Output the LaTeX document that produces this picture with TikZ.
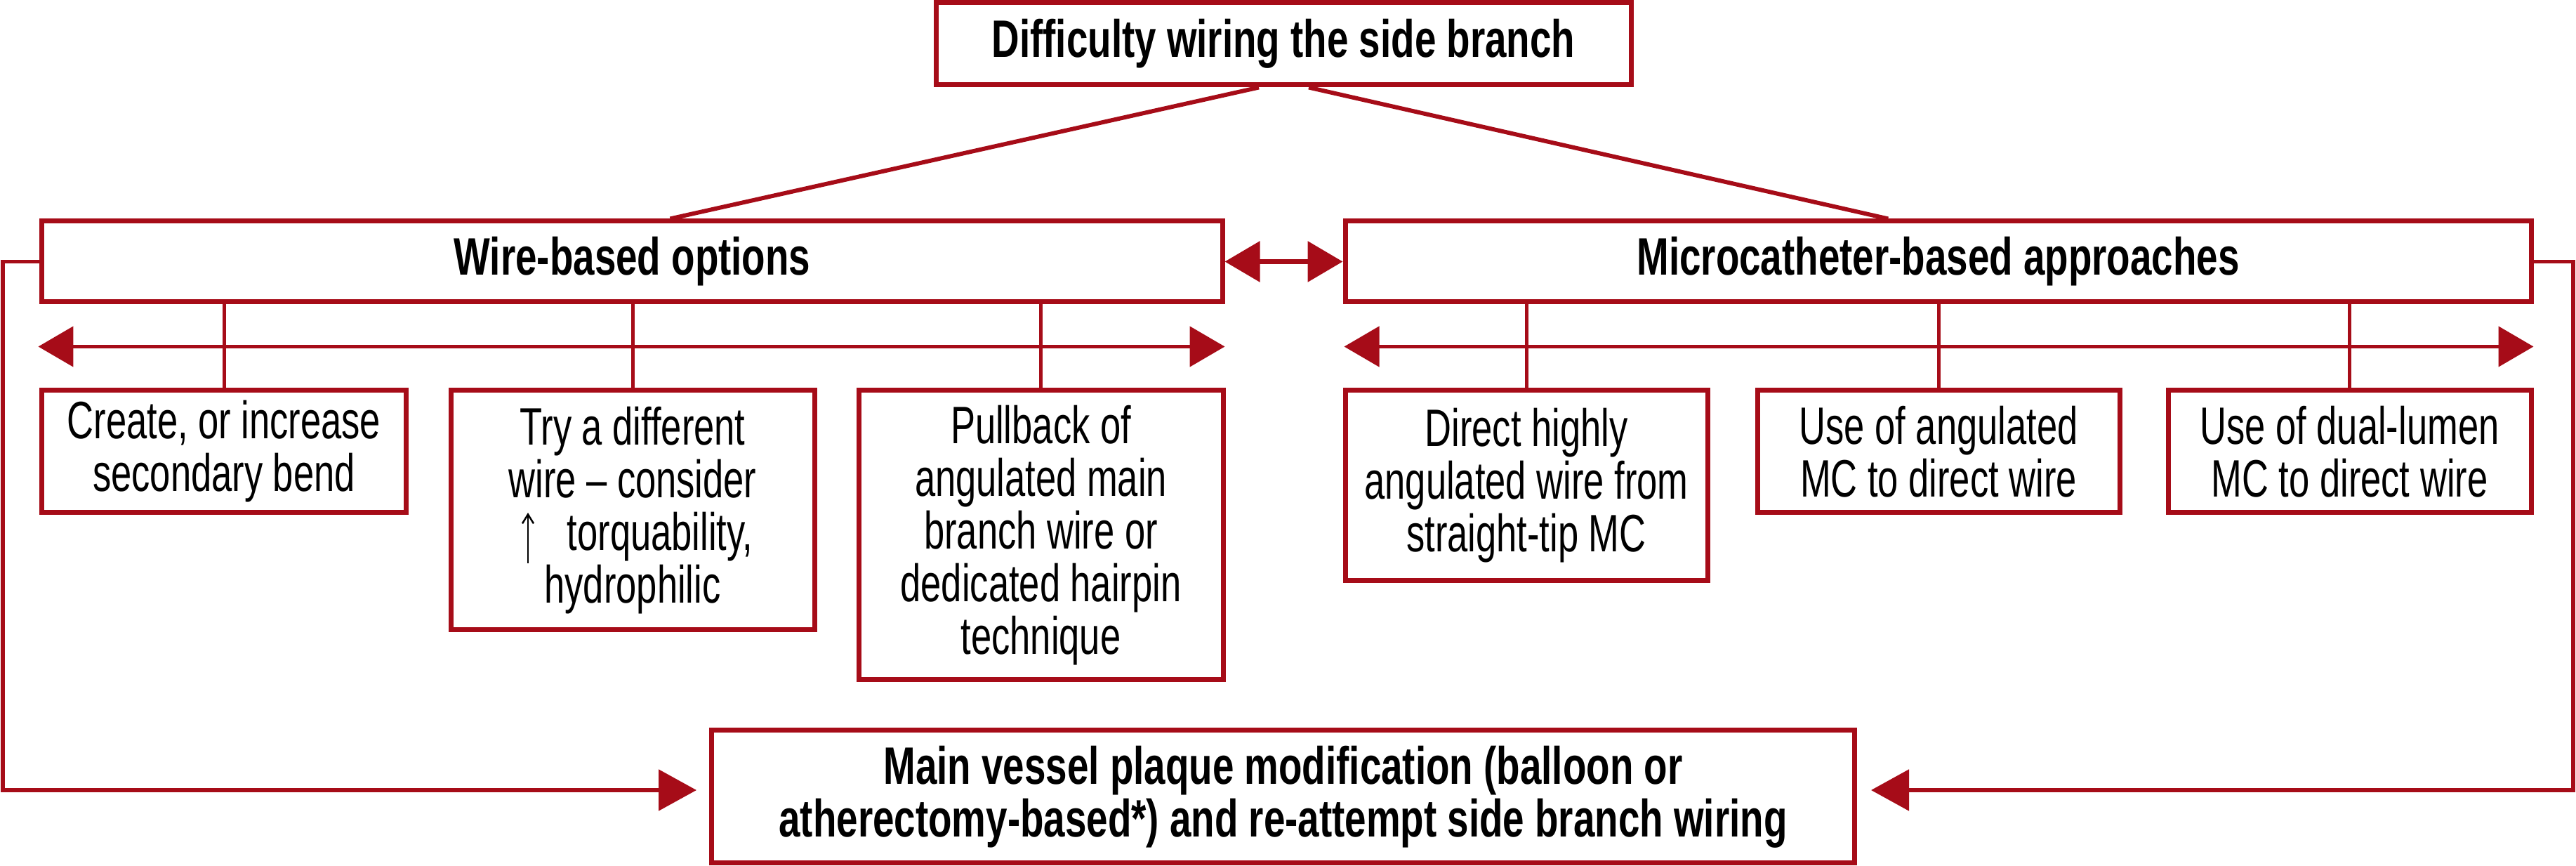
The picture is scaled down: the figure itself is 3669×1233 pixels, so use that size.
\documentclass[tikz,border=0pt]{standalone}
\usepackage{fontspec}
\usepackage{graphicx}
\setmainfont{Liberation Sans}[FakeStretch=0.70]
\newfontfamily\hdfont{Liberation Sans}[FakeStretch=0.73]
\usetikzlibrary{arrows.meta,calc}
\definecolor{jred}{RGB}{166,12,24}
\newcommand{\upgap}{\hphantom{\scalebox{0.7}[1.45]{↑}}}
\begin{document}
\begin{tikzpicture}[x=0.2pt,y=-0.2pt,
  box/.style={draw=jred, line width=1.4pt, fill=white, inner sep=0pt, align=center, text=black,
    font=\fontsize{15}{15}\selectfont},
  hbox/.style={box, font=\hdfont\bfseries\fontsize{15}{15}\selectfont},
  conn/.style={draw=jred, line width=1pt},
  topln/.style={draw=jred, line width=1.2pt},
  dbl/.style={conn, {Triangle[length=10pt,width=11.4pt]}-{Triangle[length=10pt,width=11.4pt]}},
  midarr/.style={draw=jred, line width=1.3pt, {Triangle[length=10pt,width=11.4pt]}-{Triangle[length=10pt,width=11.4pt]}},
  fb/.style={draw=jred, line width=1.1pt, -{Triangle[length=10.8pt,width=11.6pt]}},
  uparr/.style={draw=black, line width=0.5pt, -{Straight Barb[length=2.6pt,width=3.2pt,line width=0.5pt]}}
]
\useasboundingbox (0,0) rectangle (3669,1233);

% boxes
\node[hbox, minimum width=198pt, minimum height=23.4pt] (top) at (1828,62.5) {Difficulty wiring the side branch};
\node[hbox, minimum width=336.2pt, minimum height=23pt] (wire) at (900.5,372.5) {Wire-based options};
\node[hbox, minimum width=337.8pt, minimum height=23pt] (micro) at (2760.5,372.5) {Microcatheter-based approaches};

\node[box, minimum width=103.6pt, minimum height=34.8pt] (create) at (319,643) {Create, or increase\\secondary bend};
\node[box, minimum width=103.6pt, minimum height=68.2pt] (try) at (901,726.5) {Try a different\\wire – consider\\\hspace{4pt}\upgap\hspace{8pt}torquability,\\hydrophilic};
\node[box, minimum width=103.8pt, minimum height=82.4pt] (pull) at (1482.5,762) {Pullback of\\angulated main\\branch wire or\\dedicated hairpin\\technique};

\node[box, minimum width=103.2pt, minimum height=54.2pt] (direct) at (2174,691.5) {Direct highly\\angulated wire from\\straight-tip MC};
\node[box, minimum width=103.2pt, minimum height=34.8pt] (ang) at (2761,643) {Use of angulated\\MC to direct wire};
\node[box, minimum width=103.4pt, minimum height=34.8pt] (dual) at (3346.5,643) {Use of dual-lumen\\MC to direct wire};

\node[hbox, minimum width=325.4pt, minimum height=37.8pt] (bottom) at (1827.5,1134.5) {Main vessel plaque modification (balloon or\\atherectomy-based*) and re-attempt side branch wiring};

% the up-arrow sign inside the "Try a different wire" box
\coordinate (upB) at (752,802);
\coordinate (upT) at (752,730);
\draw[uparr] (upB) -- (upT);

% top connectors
\draw[topln] ($(top.south)+(-35,0)$) -- ($(wire.north west)!0.532!(wire.north east)$);
\draw[topln] ($(top.south)+(36,0)$) -- ($(micro.north west)!0.458!(micro.north east)$);

% between the two option boxes
\draw[midarr] (wire.east) -- (micro.west);

% vertical connectors
\draw[conn] (wire.south -| create.north) -- (create.north);
\draw[conn] (wire.south -| try.north) -- (try.north);
\draw[conn] (wire.south -| pull.north) -- (pull.north);
\draw[conn] (micro.south -| direct.north) -- (direct.north);
\draw[conn] (micro.south -| ang.north) -- (ang.north);
\draw[conn] (micro.south -| dual.north) -- (dual.north);

% horizontal double arrows
\draw[dbl] ($(wire.south west)+(-2,60)$) -- ($(wire.south east)+(0,60)$);
\draw[dbl] ($(micro.south west)+(2,60)$) -- ($(micro.south east)+(0,60)$);

% feedback loops
\coordinate (fbL) at (4,1125);
\coordinate (fbLend) at (992,1125);
\coordinate (fbR) at (3665,1125);
\coordinate (fbRend) at (2665,1125);
\draw[fb] (wire.west) -| (fbL) -- (fbLend);
\draw[fb] (micro.east) -| (fbR) -- (fbRend);
\end{tikzpicture}
\end{document}
